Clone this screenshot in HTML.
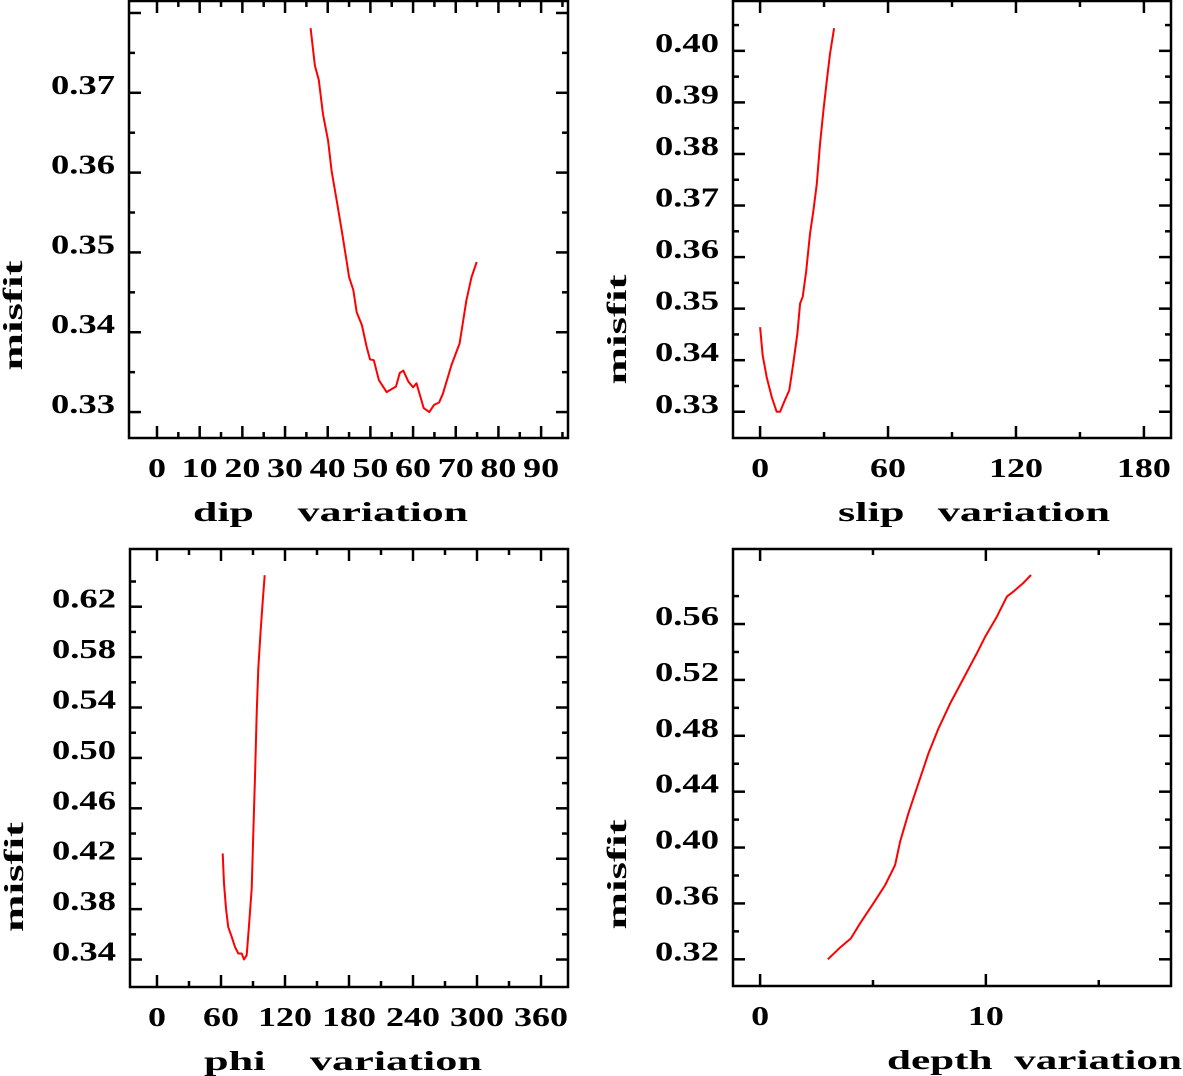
<!DOCTYPE html>
<html><head><meta charset="utf-8"><style>
html,body{margin:0;padding:0;background:#fff;}
svg{display:block;}
text{font-family:"Liberation Serif",serif;font-weight:bold;fill:#000;white-space:pre;}
</style></head><body>
<svg id="chart" width="1183" height="1076" viewBox="0 0 1183 1076" xmlns="http://www.w3.org/2000/svg"></svg>
<script>
const dipX=[36.0,37.0,37.9,38.9,40.1,40.9,42.1,43.3,44.4,45.0,46.0,46.8,48.0,49.1,49.9,50.8,52.0,53.8,56.0,56.9,57.7,58.9,60.0,60.8,62.5,63.8,64.9,66.1,67.0,69.0,70.9,72.5,73.7,74.9];
const dipY=[0.3781,0.3734,0.3716,0.3673,0.3640,0.3602,0.3565,0.3527,0.3490,0.3469,0.3453,0.3425,0.3409,0.3382,0.3366,0.3365,0.3340,0.3325,0.3332,0.3349,0.3352,0.3338,0.3331,0.3336,0.3305,0.3300,0.3309,0.3312,0.3323,0.3359,0.3386,0.3440,0.3469,0.3488];
const slipX=[0,1.25,3.1,5.5,7.8,9.4,11.7,13.7,15.6,17.5,18.75,20,21.6,23.4,25,26.6,28.1,29.7,31.3,32.8,34.7];
const slipY=[0.3464,0.3409,0.3367,0.3328,0.3300,0.3300,0.3323,0.3342,0.3394,0.3452,0.3510,0.3523,0.3571,0.3645,0.3690,0.3742,0.3819,0.3884,0.3942,0.3994,0.4044];
const phiX=[61.6,62.8,64.7,66.8,70,73.1,76.2,79.4,81.6,84.1,86.2,88.8,90.3,91.9,93.5,95.0,97.2,99.1,101.0];
const phiY=[0.4242,0.4004,0.3805,0.3659,0.3580,0.3500,0.3448,0.3448,0.3400,0.3434,0.3659,0.3964,0.4401,0.4851,0.5354,0.5711,0.6016,0.6241,0.6450];
const depthX=[3.0,3.51,4.02,4.43,5.02,5.54,5.98,6.20,6.57,7.01,7.46,7.90,8.42,9.01,9.60,9.97,10.49,10.93,11.22,11.67,12.0];
const depthY=[0.3200,0.3279,0.3350,0.3458,0.3601,0.3732,0.3875,0.4042,0.4245,0.4460,0.4675,0.4853,0.5032,0.5211,0.5390,0.5509,0.5653,0.5796,0.5832,0.5896,0.5951];
const dipXTicks=["0","10","20","30","40","50","60","70","80","90"];
const dipYTicks=["0.33","0.34","0.35","0.36","0.37"];
const slipXTicks=["0","60","120","180"];
const slipYTicks=["0.33","0.34","0.35","0.36","0.37","0.38","0.39","0.40"];
const phiXTicks=["0","60","120","180","240","300","360"];
const phiYTicks=["0.34","0.38","0.42","0.46","0.50","0.54","0.58","0.62"];
const depthXTicks=["0","10"];
const depthYTicks=["0.32","0.36","0.40","0.44","0.48","0.52","0.56"];

const NS="http://www.w3.org/2000/svg";
const svg=document.getElementById('chart');
function mk(tag,attrs,parent){const e=document.createElementNS(NS,tag);for(const k in attrs)e.setAttribute(k,attrs[k]);(parent||svg).appendChild(e);return e;}

function panel(p){
  const g=mk('g',{});
  
  
  const sx=v=>p.L+(v-p.x0)/(p.x1-p.x0)*(p.R-p.L);
  const sy=v=>p.B-(v-p.y0)/(p.y1-p.y0)*(p.B-p.T);
  const fr=mk('rect',{x:p.L,y:p.T,width:p.R-p.L,height:p.B-p.T,fill:'none',stroke:'#000','stroke-width':2.5},g);
  
  
  const nx=Math.round((p.xmaxT-p.xminT)/p.xminor);
  for(let i=0;i<=nx;i++){
    const v=p.xminT+i*p.xminor;const X=sx(v);
    const major=Math.abs((v-p.xminT)/p.xmajor-Math.round((v-p.xminT)/p.xmajor))<1e-6;
    const len=major?12:6;
    mk('line',{x1:X,x2:X,y1:p.B,y2:p.B-len,stroke:'#000','stroke-width':2.5},g);
    mk('line',{x1:X,x2:X,y1:p.T,y2:p.T+len,stroke:'#000','stroke-width':2.5},g);
  }
  p.xLabels.forEach((s,i)=>{
    const v=p.xminT+i*p.xmajor;
    const t=mk('text',{x:sx(v),y:p.B+39,'text-anchor':'middle','font-size':27,textLength:s.length*18,lengthAdjust:'spacingAndGlyphs'},g);
    t.textContent=s;
    
    
  });
  const ny=Math.round((p.ymaxT-p.yminT)/p.yminor);
  for(let i=0;i<=ny;i++){
    const v=p.yminT+i*p.yminor;const Y=sy(v);
    const major=i%Math.round(p.ymajor/p.yminor)===0;
    const len=major?12:6;
    mk('line',{x1:p.L,x2:p.L+len,y1:Y,y2:Y,stroke:'#000','stroke-width':2.5},g);
    mk('line',{x1:p.R,x2:p.R-len,y1:Y,y2:Y,stroke:'#000','stroke-width':2.5},g);
  }
  p.yLabels.forEach((s,i)=>{
    const v=p.yminT+i*p.ymajor;
    const t=mk('text',{x:p.L-78,y:sy(v)+1,'font-size':27,textLength:64,lengthAdjust:'spacingAndGlyphs'},g);
    t.textContent=s;
    
    
  });
  const d=p.xs.map((v,i)=>(i?'L':'M')+sx(v).toFixed(1)+','+sy(p.ys[i]).toFixed(1)).join('');
  const path=mk('path',{d:d,fill:'none',stroke:'#ff0000','stroke-width':2,'stroke-linejoin':'round'},g);
  
  
  const xt=mk('text',{x:p.xtX,y:p.B+83,'font-size':27,textLength:p.xtW,lengthAdjust:'spacingAndGlyphs'},g);
  xt.textContent=p.xtitle;
  
  
  const cy=(p.T+p.B)/2+p.ytOff;
  const yt=mk('text',{x:-55,y:0,'font-size':27,textLength:110,lengthAdjust:'spacingAndGlyphs',transform:`translate(${p.L-107},${cy}) rotate(-90)`},g);
  yt.textContent='misfit';
  
  
}

panel({name:'dip',L:129,R:568,T:1,B:438,x0:-6.56,x1:96.3,y0:0.32675,y1:0.3815,
  xminT:0,xmaxT:95,xminor:5,xmajor:10,yminT:0.33,ymaxT:0.38,yminor:0.005,ymajor:0.01,
  xLabels:dipXTicks,yLabels:dipYTicks,xs:dipX,ys:dipY,xtitle:'dip    variation',xtX:193,xtW:275,ytOff:96});
panel({name:'slip',L:733,R:1171,T:1,B:438,x0:-12.7,x1:192.7,y0:0.32491,y1:0.40967,
  xminT:0,xmaxT:180,xminor:30,xmajor:60,yminT:0.33,ymaxT:0.405,yminor:0.005,ymajor:0.01,
  xLabels:slipXTicks,yLabels:slipYTicks,xs:slipX,ys:slipY,xtitle:'slip   variation',xtX:838,xtW:272,ytOff:110});
panel({name:'phi',L:130,R:568,T:549,B:987,x0:-25.3,x1:385.3,y0:0.3182,y1:0.6658,
  xminT:0,xmaxT:360,xminor:30,xmajor:60,yminT:0.34,ymaxT:0.64,yminor:0.02,ymajor:0.04,
  xLabels:phiXTicks,yLabels:phiYTicks,xs:phiX,ys:phiY,xtitle:'phi    variation',xtX:204,xtW:278,ytOff:109});
panel({name:'depth',L:733,R:1171,T:549,B:986,x0:-1.2,x1:18.2,y0:0.3009,y1:0.6137,
  xminT:0,xmaxT:15,xminor:5,xmajor:10,yminT:0.32,ymaxT:0.58,yminor:0.02,ymajor:0.04,
  xLabels:depthXTicks,yLabels:depthYTicks,xs:depthX,ys:depthY,xtitle:'depth  variation',xtX:887,xtW:295,ytOff:107});
</script>
</body></html>
